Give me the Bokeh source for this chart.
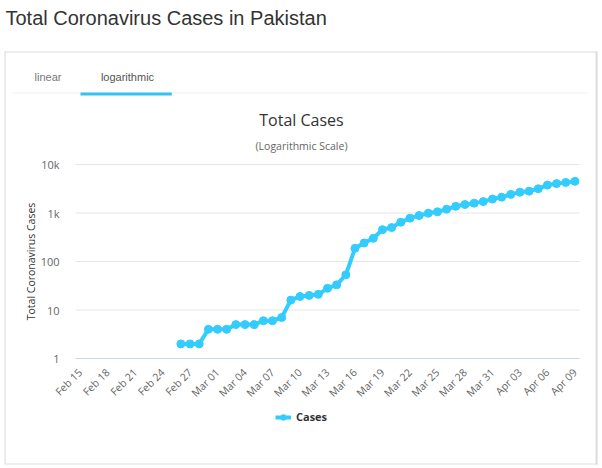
import math
from bokeh.plotting import figure
from bokeh.models import (Range1d, FixedTicker, Label, Legend, LegendItem,
                          ColumnDataSource)
from bokeh.embed import file_html
from bokeh.resources import INLINE

# ---- data -------------------------------------------------------------
dates = (["Feb %02d" % d for d in range(15, 30)] +
         ["Mar %02d" % d for d in range(1, 32)] +
         ["Apr %02d" % d for d in range(1, 10)])
case_dates = dates[11:]
cases = [2, 2, 2, 4, 4, 4, 5, 5, 5, 6, 6, 7, 16, 19, 20, 21, 28, 33, 53,
         187, 241, 301, 454, 501, 646, 784, 887, 991, 1057, 1201, 1373, 1495,
         1597, 1717, 1938, 2118, 2421, 2686, 2818, 3157, 3766, 4035, 4263, 4489]
tick_labels = dates[::3]
y_ticks = [1, 10, 100, 1000, 10000]
y_tick_labels = ["1", "10", "100", "1k", "10k"]
series_name = "Cases"

BLUE = "#33ccff"
FONT = "Open Sans"

# ---- layout (pixels) --------------------------------------------------
W, H = 600, 466
PL, PR, PT, PB = 75, 579, 164, 358          # plot area edges on the canvas
n = len(dates)
ppu = (PR - PL) / n                           # pixels per category
x_lo, x_hi = -0.5, n - 0.5
ymin, ymax = y_ticks[0], y_ticks[-1]
decades = math.log10(ymax / ymin)
ppd = (PB - PT) / decades                     # pixels per decade

x_range = Range1d(x_lo - PL / ppu, x_hi + (W - PR) / ppu)
y_range = Range1d(ymin * 10 ** (-(H - PB) / ppd), ymax * 10 ** (PT / ppd))

case_x = [dates.index(d) for d in case_dates]
tick_x = [dates.index(t) for t in tick_labels]
src = ColumnDataSource(dict(x=case_x, cases=cases, date=case_dates))

p = figure(width=W, height=H, x_range=x_range, y_range=y_range,
           y_axis_type="log", output_backend="svg", toolbar_location=None,
           min_border=0)
p.outline_line_color = None
p.background_fill_color = "white"
p.border_fill_color = "white"
p.xgrid.visible = False
p.ygrid.visible = False

# grid lines limited to the plot area
p.segment(x0=[x_lo] * len(y_ticks), x1=[x_hi] * len(y_ticks),
          y0=y_ticks, y1=y_ticks, line_color="#e6e6e6", line_width=1)

# y axis
p.yaxis.fixed_location = x_lo
p.yaxis.bounds = (ymin, ymax)
p.yaxis.ticker = FixedTicker(ticks=y_ticks)
p.yaxis.major_label_overrides = {t: l for t, l in zip(y_ticks, y_tick_labels)}
p.yaxis.axis_line_color = None
p.yaxis.major_tick_line_color = None
p.yaxis.minor_tick_line_color = None
p.yaxis.major_label_text_font = FONT
p.yaxis.major_label_text_font_size = "11px"
p.yaxis.major_label_text_color = "#666666"
p.yaxis.major_label_standoff = 10
p.yaxis.axis_label = "Total Coronavirus Cases"
p.yaxis.axis_label_text_font = FONT
p.yaxis.axis_label_text_font_size = "10.5px"
p.yaxis.axis_label_text_font_style = "normal"
p.yaxis.axis_label_text_color = "#333333"
p.yaxis.axis_label_standoff = 0

# x axis
p.xaxis.fixed_location = ymin
p.xaxis.bounds = (x_lo, x_hi)
p.xaxis.ticker = FixedTicker(ticks=tick_x)
p.xaxis.major_label_overrides = {i: t for i, t in zip(tick_x, tick_labels)}
p.xaxis.major_label_orientation = math.pi / 4
p.xaxis.axis_line_color = "#ccd6eb"
p.xaxis.major_tick_line_color = None
p.xaxis.minor_tick_line_color = None
p.xaxis.major_label_text_font = FONT
p.xaxis.major_label_text_font_size = "10.5px"
p.xaxis.major_label_text_color = "#666666"
p.xaxis.major_label_standoff = 6

# series
ln = p.line(x="x", y="cases", source=src, line_width=4, line_color=BLUE)
sc = p.scatter(x="x", y="cases", source=src, size=8, fill_color=BLUE,
               line_color=BLUE)

legend = Legend(items=[LegendItem(label=series_name, renderers=[ln, sc])],
                location=(275, H - 424), orientation="horizontal",
                border_line_color=None, background_fill_alpha=0,
                padding=0, margin=0, spacing=0, label_standoff=5,
                glyph_width=16, glyph_height=14, label_height=14,
                label_text_font=FONT, label_text_font_size="11px",
                label_text_font_style="bold", label_text_color="#333333")
p.add_layout(legend)


def add_hrect(left, top, right, thickness, fill):
    p.add_layout(Label(x=left, y=top, x_units="canvas", y_units="canvas",
                       text=" ", text_font_size="1px", text_align="left",
                       text_baseline="top",
                       padding=dict(left=0, right=right - left, top=0,
                                    bottom=max(thickness - 1, 0)),
                       background_fill_color=fill))


def add_vrect(left, top, bottom, thickness, fill):
    p.add_layout(Label(x=left, y=bottom, x_units="canvas", y_units="canvas",
                       text=" ", text_font_size="1px", text_align="left",
                       text_baseline="top", angle=math.pi / 2,
                       padding=dict(left=0, right=bottom - top, top=0,
                                    bottom=max(thickness - 1, 0)),
                       background_fill_color=fill))


def add_text(x, y, text, size, color, font=FONT, align="center", style="normal"):
    p.add_layout(Label(x=x, y=y, x_units="canvas", y_units="canvas", text=text,
                       text_font=font, text_font_size=size, text_color=color,
                       text_align=align, text_baseline="middle",
                       text_font_style=style))


# decorations (container box, tabs)
BOX = "#dddddd"
add_hrect(4, 51, 596, 1, BOX)
add_hrect(4, 463, 597, 1, BOX)
add_vrect(4, 51, 463, 1, BOX)
add_vrect(595, 51, 464, 2, BOX)
add_hrect(12, 92, 587, 1, "#f0f0f0")
add_hrect(80, 92, 171, 3, "#33c3f0")

add_text(5, 17, "Total Coronavirus Cases in Pakistan", "20px", "#333333",
         font="Liberation Sans", align="left")
add_text(47.5, 76, "linear", "11px", "#777777", font="Liberation Sans")
add_text(127, 76, "logarithmic", "11px", "#555555", font="Liberation Sans")
add_text(301, 119, "Total Cases", "16px", "#333333")
add_text(301, 145, "(Logarithmic Scale)", "10.5px", "#666666")

open("out.html", "w").write(file_html(p, INLINE))
